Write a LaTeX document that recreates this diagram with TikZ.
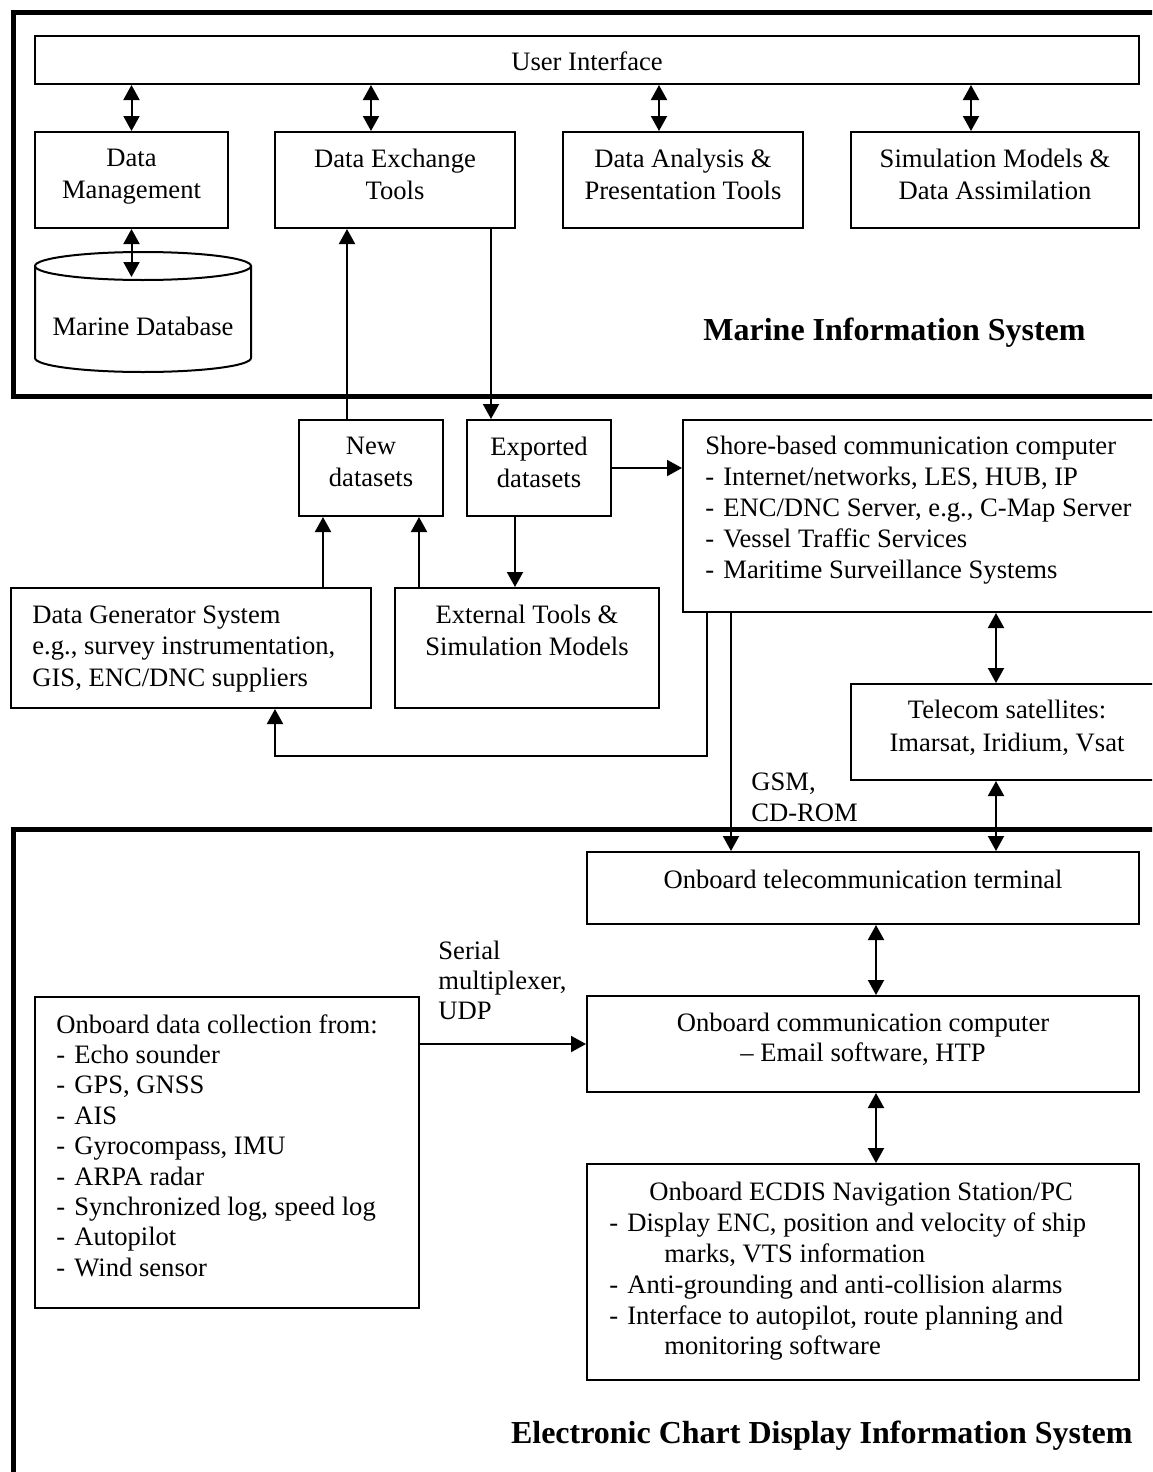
\documentclass[tikz,border=0pt]{standalone}
\usepackage{fontspec}
\setmainfont{Liberation Serif}
\usetikzlibrary{arrows.meta,fit}
\newcommand\mydash{\makebox[9pt][l]{-}}
\begin{document}
\begin{tikzpicture}[x=0.5pt,y=-0.5pt,
  box/.style={draw, line width=1pt, inner sep=0pt},
  frame/.style={line width=2.5pt},
  txt/.style={inner sep=0pt, font=\fontsize{13.3pt}{15.5pt}\selectfont},
  wide/.style={font=\fontsize{13.3pt}{16pt}\selectfont},
  tight/.style={font=\fontsize{13.3pt}{15.2pt}\selectfont},
  ttl/.style={inner sep=0pt, font=\fontsize{16pt}{19pt}\selectfont\bfseries},
  tip/.style={-{Triangle[length=7.5pt,width=8pt]}},
  dtip/.style={{Triangle[length=7.5pt,width=8pt]}-{Triangle[length=7.5pt,width=8pt]}},
  conn/.style={line width=1pt}]
\useasboundingbox (0,0) rectangle (1152,1472);
\fill[white] (0,0) rectangle (1152,1472);
\clip (0,0) rectangle (1152,1472);

% frames
\draw[frame] (1180,12) -- (13,12) -- (13,396) -- (1180,396);
\draw[frame] (1180,829) -- (13,829) -- (13,1500);

% Marine Information System
\node[box, fit={(35,36) (1139,84)}] (ui) {};
\node[box, fit={(35,132) (228,228)}] (dm) {};
\node[box, fit={(275,132) (515,228)}] (det) {};
\node[box, fit={(563,132) (803,228)}] (da) {};
\node[box, fit={(851,132) (1139,228)}] (sim) {};

\node[txt, anchor=base] (uit) at (587,70) {User Interface};
\node[txt, wide, anchor=north, align=center] (dmt) at (131.5,149) {Data\\Management};
\node[txt, wide, anchor=north, align=center] (dett) at (395,149) {Data Exchange\\Tools};
\node[txt, wide, anchor=north, align=center] (dat) at (683,149) {Data Analysis \&\\Presentation Tools};
\node[txt, wide, anchor=north, align=center] (simt) at (995,149) {Simulation Models \&\\Data Assimilation};

% cylinder
\draw[line width=1pt] (35,266) -- (35,358) arc[start angle=180, end angle=360, x radius=54pt, y radius=7pt] -- (251,266);
\draw[line width=1pt] (143,266) ellipse [x radius=54pt, y radius=7pt];
\node[txt, anchor=base] (db) at (143,335) {Marine Database};
\coordinate (dbtop) at (131.5,277);

\node[ttl, anchor=base west] (mis) at (703,340) {Marine Information System};

% middle
\node[box, fit={(299,420) (443,516)}] (nd) {};
\node[box, fit={(467,420) (611,516)}] (ed) {};
\node[box, fit={(683,420) (1175,612)}] (shore) {};
\node[box, fit={(395,588) (659,708)}] (ext) {};
\node[box, fit={(11,588) (371,708)}] (gen) {};
\node[box, fit={(851,684) (1163,780)}] (tel) {};

\node[txt, wide, anchor=north, align=center] (ndt) at (371,437) {New\\datasets};
\node[txt, wide, anchor=north, align=center] (edt) at (539,437) {Exported\\datasets};
\node[txt, anchor=north west, align=left] (shoret) at (705,436) {Shore-based communication computer\\
\mydash Internet/networks, LES, HUB, IP\\
\mydash ENC/DNC Server, e.g., C-Map Server\\
\mydash Vessel Traffic Services\\
\mydash Maritime Surveillance Systems};
\node[txt, wide, anchor=north, align=center] (extt) at (527,605) {External Tools \&\\Simulation Models};
\node[txt, font=\fontsize{13.3pt}{15.75pt}\selectfont, anchor=north west, align=left] (gent) at (32,605) {Data Generator System\\e.g., survey instrumentation,\\GIS, ENC/DNC suppliers};
\node[txt, font=\fontsize{13.3pt}{16.5pt}\selectfont, anchor=north, align=center] (telt) at (1007,700) {Telecom satellites:\\Imarsat, Iridium, Vsat};
\node[txt, anchor=north west, align=left] (gsm) at (751,772) {GSM,\\CD-ROM};

% ECDIS
\node[box, fit={(587,852) (1139,924)}] (term) {};
\node[box, fit={(587,996) (1139,1092)}] (occ) {};
\node[box, fit={(587,1164) (1139,1380)}] (ecd) {};
\node[box, fit={(35,997) (419,1308)}] (col) {};

\node[txt, anchor=base] (termt) at (863,888) {Onboard telecommunication terminal};
\node[txt, font=\fontsize{13.3pt}{15pt}\selectfont, anchor=north, align=center] (occt) at (863,1013) {Onboard communication computer\\\textendash{} Email software, HTP};
\node[txt, font=\fontsize{13.3pt}{15pt}\selectfont, anchor=north west, align=left] (ser) at (438,941) {Serial\\multiplexer,\\UDP};
\node[txt, tight, anchor=north west, align=left] (colt) at (56,1014) {Onboard data collection from:\\
\mydash Echo sounder\\
\mydash GPS, GNSS\\
\mydash AIS\\
\mydash Gyrocompass, IMU\\
\mydash ARPA radar\\
\mydash Synchronized log, speed log\\
\mydash Autopilot\\
\mydash Wind sensor};
\node[txt, font=\fontsize{13.3pt}{15.4pt}\selectfont, anchor=north west, align=left] (ecdt) at (609,1182) {\hspace*{20pt}Onboard ECDIS Navigation Station/PC\\
\makebox[9pt][l]{-}Display ENC, position and velocity of ship\\
\hspace*{27.5pt}marks, VTS information\\
\makebox[9pt][l]{-}Anti-grounding and anti-collision alarms\\
\makebox[9pt][l]{-}Interface to autopilot, route planning and\\
\hspace*{27.5pt}monitoring software};
\node[ttl, anchor=base east] (ecdis) at (1133,1443) {Electronic Chart Display Information System};

% connectors
\draw[conn, dtip] (ui.south -| dm.north) -- (dm.north);
\draw[conn, dtip] (ui.south -| 371,0) -- (det.north -| 371,0);
\draw[conn, dtip] (ui.south -| 659,0) -- (da.north -| 659,0);
\draw[conn, dtip] (ui.south -| 971,0) -- (sim.north -| 971,0);
\draw[conn, dtip] (dm.south) -- (dbtop);
\draw[conn, tip] (nd.north -| 347,0) -- (det.south -| 347,0);
\draw[conn, tip] (det.south -| 491,0) -- (ed.north -| 491,0);
\draw[conn, tip] (ed.east) -- (shore.west |- ed.east);
\draw[conn, tip] (ed.south -| 515,0) -- (ext.north -| 515,0);
\draw[conn, tip] (gen.north -| 323,0) -- (nd.south -| 323,0);
\draw[conn, tip] (ext.north -| 419,0) -- (nd.south -| 419,0);
\coordinate (loop) at (275,756);
\draw[conn, tip] (shore.south -| 707,0) |- (loop) -- (gen.south -| loop);
\draw[conn, tip] (shore.south -| 731,0) -- (term.north -| 731,0);
\draw[conn, dtip] (shore.south -| 996,0) -- (tel.north -| 996,0);
\draw[conn, dtip] (tel.south -| 996,0) -- (term.north -| 996,0);
\draw[conn, dtip] (term.south -| 876,0) -- (occ.north -| 876,0);
\draw[conn, tip] (col.east |- occ.west) -- (occ.west);
\draw[conn, dtip] (occ.south -| 876,0) -- (ecd.north -| 876,0);
\end{tikzpicture}
\end{document}
